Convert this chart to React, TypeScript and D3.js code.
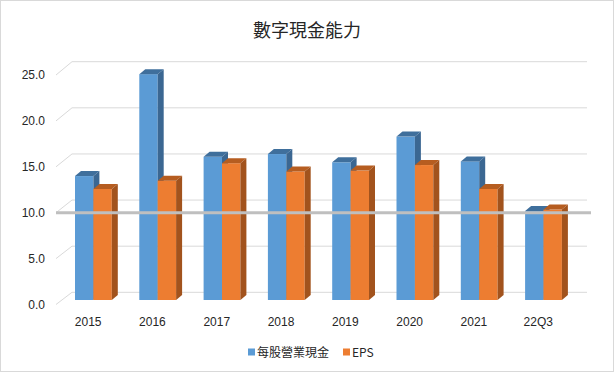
import React from "react";
import * as d3 from "d3";

const categories = ["2015", "2016", "2017", "2018", "2019", "2020", "2021", "22Q3"];
const cashPerShare = [13.5, 24.6, 15.6, 15.9, 15.0, 17.8, 15.1, 9.7];
const eps = [12.1, 13.0, 14.9, 14.0, 14.1, 14.7, 12.1, 9.85];
const yTicks = [0, 5, 10, 15, 20, 25];
const seriesNames = ["每股營業現金", "EPS"];
const refValue = 10;

const W = 614;
const H = 372;
const DX = 6;
const DY = 5;

export default function App() {
  const yBar = d3.scaleLinear().domain([0, 25]).range([300, 70.5]);
  const yFront = d3.scaleLinear().domain([0, 25]).range([304.5, 75]);
  const yBack = d3.scaleLinear().domain([0, 25]).range([292.3, 61.7]);
  const x = d3.scaleBand<string>().domain(categories).range([56, 570.4]).padding(0);
  const barW = 18.4;
  const series = [
    { name: seriesNames[0], values: cashPerShare, front: "#5b9bd5", top: "#3f6f9c", side: "#3b6792" },
    { name: seriesNames[1], values: eps, front: "#ed7d31", top: "#b65d20", side: "#a2531d" },
  ];
  const cjk = "'Noto Sans CJK TC', 'Noto Sans', sans-serif";
  const latin = "'Liberation Sans', Arial, sans-serif";

  return (
    <svg width={W} height={H} style={{ position: "absolute", left: 0, top: 0, background: "#fff" }}>
      <rect x={0.5} y={0.5} width={W - 1} height={H - 1} fill="#fff" stroke="#d9d9d9" />
      <text x={307} y={37} textAnchor="middle" fontFamily={cjk} fontSize={18} fill="#262626">
        數字現金能力
      </text>
      {yTicks.map((t) => (
        <g key={t}>
          <line x1={72} x2={587} y1={yBack(t)} y2={yBack(t)} stroke="#d9d9d9" strokeWidth={1} />
          <line x1={56} x2={72} y1={yFront(t)} y2={yBack(t)} stroke="#d9d9d9" strokeWidth={1} />
          <text x={45} y={yFront(t)} dy="0.35em" textAnchor="end" fontFamily={latin} fontSize={12} fill="#262626">
            {t.toFixed(1)}
          </text>
        </g>
      ))}
      {categories.map((c, i) => (
        <g key={c}>
          {series.map((s, si) => {
            const bx = (x(c) as number) + 19 + si * barW;
            const y0 = yBar(0);
            const y1 = yBar(s.values[i]);
            return (
              <g key={s.name}>
                <rect x={bx} y={y1} width={barW} height={y0 - y1} fill={s.front} />
                <polygon
                  points={`${bx},${y1} ${bx + DX},${y1 - DY} ${bx + barW + DX},${y1 - DY} ${bx + barW},${y1}`}
                  fill={s.top}
                />
                <polygon
                  points={`${bx + barW},${y1} ${bx + barW + DX},${y1 - DY} ${bx + barW + DX},${y0 - DY} ${bx + barW},${y0}`}
                  fill={s.side}
                />
              </g>
            );
          })}
          <text
            x={(x(c) as number) + x.bandwidth() / 2}
            y={322}
            dy="0.35em"
            textAnchor="middle"
            fontFamily={latin}
            fontSize={12}
            fill="#262626"
          >
            {c}
          </text>
        </g>
      ))}
      <line x1={56} x2={591} y1={yFront(refValue)} y2={yFront(refValue)} stroke="#bfbfbf" strokeWidth={3} />
      <g>
        <rect x={248} y={348.5} width={7} height={7} fill={series[0].front} />
        <text x={257} y={352.5} dy="0.35em" fontFamily={cjk} fontSize={12} fill="#262626">
          {seriesNames[0]}
        </text>
        <rect x={343} y={348.5} width={7} height={7} fill={series[1].front} />
        <text x={352} y={352.5} dy="0.35em" fontFamily={cjk} fontSize={12} fill="#262626">
          {seriesNames[1]}
        </text>
      </g>
    </svg>
  );
}
